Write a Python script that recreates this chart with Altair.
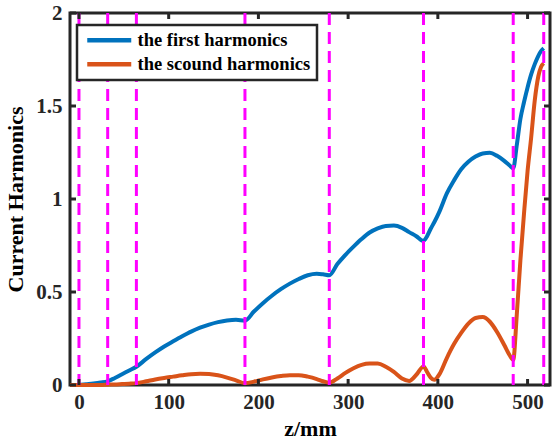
import altair as alt
import pandas as pd

# Axial position (mm) and harmonic amplitudes
z_mm = [-10, 0, 8, 16, 24, 32, 40, 48, 56, 64, 75, 85, 95, 105, 115, 125, 135, 145,
        155, 165, 175, 185, 195, 205, 215, 225, 235, 245, 255, 265, 272, 279, 288,
        297, 306, 315, 324, 333, 342, 351, 360, 368, 376, 384, 388, 392, 396, 402,
        410, 418, 426, 434, 442, 450, 458, 466, 474, 480, 484, 488, 492, 496, 500,
        504, 508, 512, 515, 518]
first_harm = [0, 0, 0.004, 0.008, 0.013, 0.02, 0.038, 0.058, 0.078, 0.098, 0.14,
              0.175, 0.207, 0.235, 0.262, 0.287, 0.308, 0.325, 0.338, 0.347, 0.351,
              0.346, 0.395, 0.44, 0.48, 0.515, 0.545, 0.57, 0.59, 0.598, 0.595, 0.59,
              0.65, 0.70, 0.744, 0.785, 0.82, 0.842, 0.855, 0.857, 0.845, 0.822, 0.80,
              0.775, 0.80, 0.84, 0.875, 0.935, 1.03, 1.10, 1.16, 1.20, 1.228, 1.245,
              1.248, 1.232, 1.205, 1.18, 1.165, 1.29, 1.43, 1.52, 1.60, 1.67, 1.725,
              1.77, 1.795, 1.81]
second_harm = [0, 0, 0, 0, 0, 0.002, 0.003, 0.005, 0.007, 0.01, 0.02, 0.03, 0.038,
               0.045, 0.052, 0.058, 0.06, 0.059, 0.052, 0.04, 0.025, 0.01, 0.018, 0.03,
               0.04, 0.048, 0.053, 0.053, 0.045, 0.032, 0.02, 0.012, 0.035, 0.065,
               0.09, 0.108, 0.115, 0.115, 0.098, 0.07, 0.035, 0.022, 0.055, 0.10,
               0.07, 0.04, 0.028, 0.06, 0.145, 0.22, 0.28, 0.33, 0.36, 0.365, 0.34,
               0.285, 0.215, 0.16, 0.135, 0.38, 0.67, 0.92, 1.15, 1.33, 1.53, 1.66,
               1.71, 1.73]
series_names = ["the first harmonics", "the scound harmonics"]
series_colors = ["#0072BD", "#D95319"]

# Section boundaries
boundaries = [0, 32, 64, 185, 279, 384, 484, 518]

x_ticks = [0, 100, 200, 300, 400, 500]
y_ticks = [0, 0.5, 1, 1.5, 2]

W, H = 480, 372
FONT = "Liberation Serif"
DARK = "#262626"

curves = pd.DataFrame({
    "z": z_mm * 2,
    "v": first_harm + second_harm,
    "s": [series_names[0]] * len(z_mm) + [series_names[1]] * len(z_mm),
})

xs = alt.Scale(domain=[-10, 525], nice=False, zero=False)
ys = alt.Scale(domain=[0, 2], nice=False)

lines = alt.Chart(curves).mark_line(strokeWidth=4, interpolate="monotone").encode(
    x=alt.X("z:Q", scale=xs,
            axis=alt.Axis(values=x_ticks, title="z/mm", format="d")),
    y=alt.Y("v:Q", scale=ys,
            axis=alt.Axis(values=y_ticks, title="Current Harmonics", format="~g")),
    color=alt.Color("s:N",
                    scale=alt.Scale(domain=series_names, range=series_colors),
                    legend=alt.Legend(title=None)),
    order="z:Q",
)

dashes = alt.Chart(pd.DataFrame({"b": boundaries})).mark_rule(
    color="#FF00FF", strokeWidth=3, strokeDash=[12, 7]
).encode(x=alt.X("b:Q", scale=xs))

xt = pd.DataFrame({"t": x_ticks})
yt = pd.DataFrame({"t": y_ticks})
tick_style = dict(color=DARK, strokeWidth=3)
xb = alt.Chart(xt).mark_rule(**tick_style).encode(
    x=alt.X("t:Q", scale=xs), y=alt.value(H), y2=alt.value(H - 6))
xtop = alt.Chart(xt).mark_rule(**tick_style).encode(
    x=alt.X("t:Q", scale=xs), y=alt.value(0), y2=alt.value(6))
yl = alt.Chart(yt).mark_rule(**tick_style).encode(
    y=alt.Y("t:Q", scale=ys), x=alt.value(0), x2=alt.value(6))
yr = alt.Chart(yt).mark_rule(**tick_style).encode(
    y=alt.Y("t:Q", scale=ys), x=alt.value(W), x2=alt.value(W - 6))

chart = alt.layer(lines, dashes, xb, xtop, yl, yr).properties(
    width=W, height=H,
    autosize=alt.AutoSizeParams(type="none"),
    padding={"left": 70, "top": 13, "right": 2, "bottom": 60},
).configure_view(
    stroke=DARK, strokeWidth=3
).configure_axis(
    domain=False, ticks=False, tickSize=0, grid=False,
    labelFont=FONT, labelFontWeight="bold", labelFontSize=21, labelColor=DARK,
    titleFont=FONT, titleFontWeight="bold", titleFontSize=22, titleColor="#000000",
).configure_axisX(
    labelPadding=6, titlePadding=6,
).configure_axisY(
    labelPadding=8, titlePadding=8,
).configure_legend(
    orient="none", legendX=7, legendY=12,
    fillColor="white", strokeColor=DARK, strokeWidth=2.5, padding=6,
    symbolType="M-1,0H7.8", symbolSize=100, symbolStrokeWidth=4.5,
    labelFont=FONT, labelFontWeight="bold", labelFontSize=18.5, labelColor="#000000",
    labelOffset=36, rowPadding=5, labelLimit=400,
)

chart.save("out.html", embed_options={"renderer": "svg", "actions": False})
